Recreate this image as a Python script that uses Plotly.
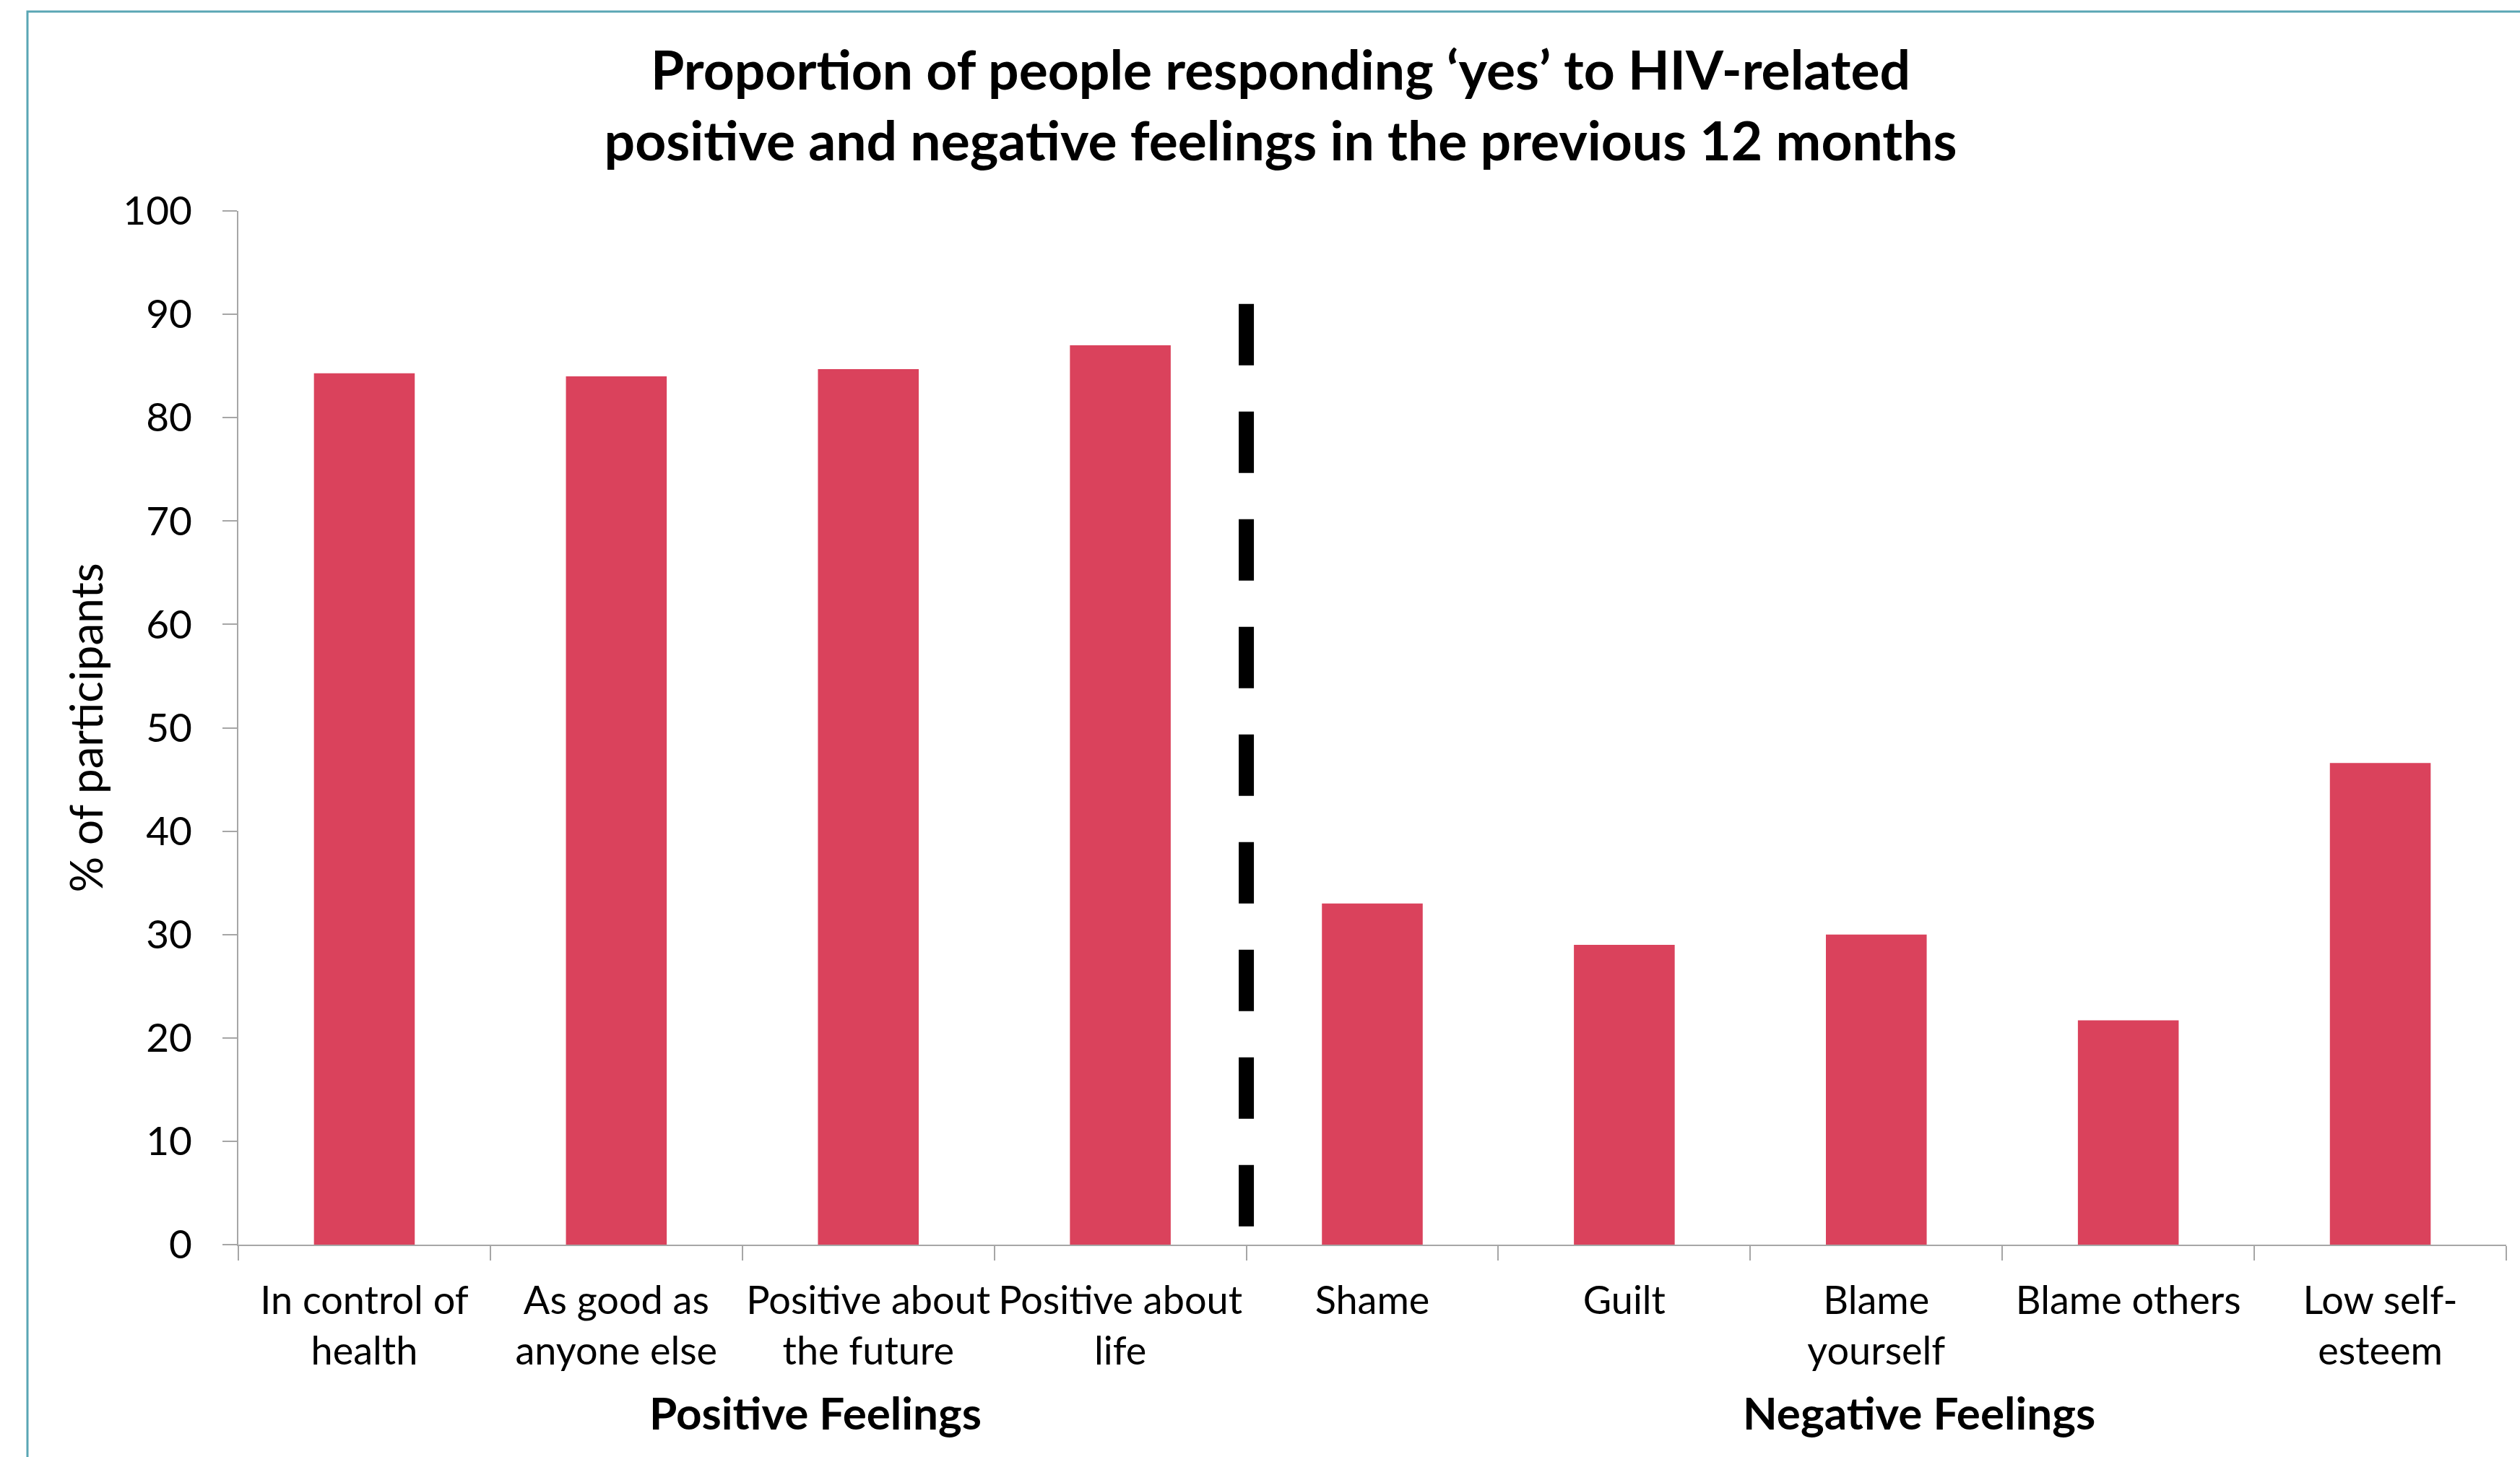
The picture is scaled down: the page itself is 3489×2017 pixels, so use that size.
import plotly.graph_objects as go

# Survey items and share of participants answering "yes" (%)
categories = [
    "In control of health", "As good as anyone else", "Positive about the future",
    "Positive about life", "Shame", "Guilt", "Blame yourself", "Blame others",
    "Low self-esteem",
]
tick_labels = [
    "In control of<br>health", "As good as<br>anyone else", "Positive about<br>the future",
    "Positive about<br>life", "Shame", "Guilt", "Blame<br>yourself", "Blame others",
    "Low self-<br>esteem",
]
percent_yes = [84.3, 84.0, 84.7, 87.0, 33.0, 29.0, 30.0, 21.7, 46.6]

group_names = ["Positive Feelings", "Negative Feelings"]
y_ticks = list(range(0, 101, 10))

W, H = 3489, 2017
L, R, T, B = 330, 19, 292, 294
FONT = "Lato, 'Open Sans', sans-serif"
AXIS_GREY = "#A6A6A6"
BAR_RED = "#DA425C"
FRAME = "#5AA6B4"

fig = go.Figure()
fig.add_trace(go.Bar(
    x=categories, y=percent_yes, width=0.4,
    marker=dict(color=BAR_RED, line=dict(width=0)),
    showlegend=False, hoverinfo="x+y",
))

# Dashed divider between the positive and negative item groups
fig.add_shape(type="line", xref="x", yref="y", x0=3.5, x1=3.5, y0=91.0, y1=1.6,
              line=dict(color="black", width=21, dash="85px,64px"))

# Outer chart frame
pw, ph = W - L - R, H - T - B
fig.add_shape(type="rect", xref="paper", yref="paper",
              x0=(38 - L) / pw, x1=(W + 20 - L) / pw,
              y0=-(B + 20) / ph, y1=(H - B - 16) / ph,
              line=dict(color=FRAME, width=3), fillcolor="rgba(0,0,0,0)", layer="below")

# Group captions under the category labels
for name, xpos in zip(group_names, [1.79, 6.17]):
    fig.add_annotation(text="<b>%s</b>" % name, x=xpos, xref="x",
                       y=-(1955 - (H - B)) / ph, yref="paper",
                       xanchor="center", yanchor="middle", showarrow=False,
                       font=dict(family=FONT, size=62, color="black"))

# Y-axis caption
fig.add_annotation(text="% of participants", textangle=-90,
                   x=(117 - L) / pw, xref="paper", y=0.5, yref="paper",
                   xanchor="center", yanchor="middle", showarrow=False,
                   font=dict(family=FONT, size=62, color="black"))

fig.update_layout(
    width=W, height=H,
    margin=dict(l=L, r=R, t=T, b=B, pad=0),
    paper_bgcolor="white", plot_bgcolor="white",
    font=dict(family=FONT, color="black"),
    bargap=0.6,
    title=dict(
        text="<b>Proportion of people responding ‘yes’ to HIV-related<br>"
             "positive and negative feelings in the previous 12 months</b>",
        x=1773 / W, xanchor="center", xref="container",
        y=1 - 124 / H, yanchor="middle", yref="container",
        font=dict(family=FONT, size=75, color="black"),
    ),
    xaxis=dict(
        type="category", categoryorder="array", categoryarray=categories,
        tickmode="array", tickvals=categories, ticktext=tick_labels,
        tickson="boundaries", ticks="outside", ticklen=20, tickwidth=2,
        tickcolor=AXIS_GREY, showline=True, linecolor=AXIS_GREY, linewidth=2,
        showgrid=False, range=[-0.5, 8.5], tickfont=dict(family=FONT, size=54),
        ticklabelstandoff=29,
    ),
    yaxis=dict(
        range=[0, 100], tickmode="array", tickvals=y_ticks,
        ticks="outside", ticklen=20, tickwidth=2, tickcolor=AXIS_GREY,
        showline=True, linecolor=AXIS_GREY, linewidth=2, showgrid=False,
        zeroline=False, tickfont=dict(family=FONT, size=55),
        ticklabelstandoff=31,
    ),
)

fig.write_html("out.html")
